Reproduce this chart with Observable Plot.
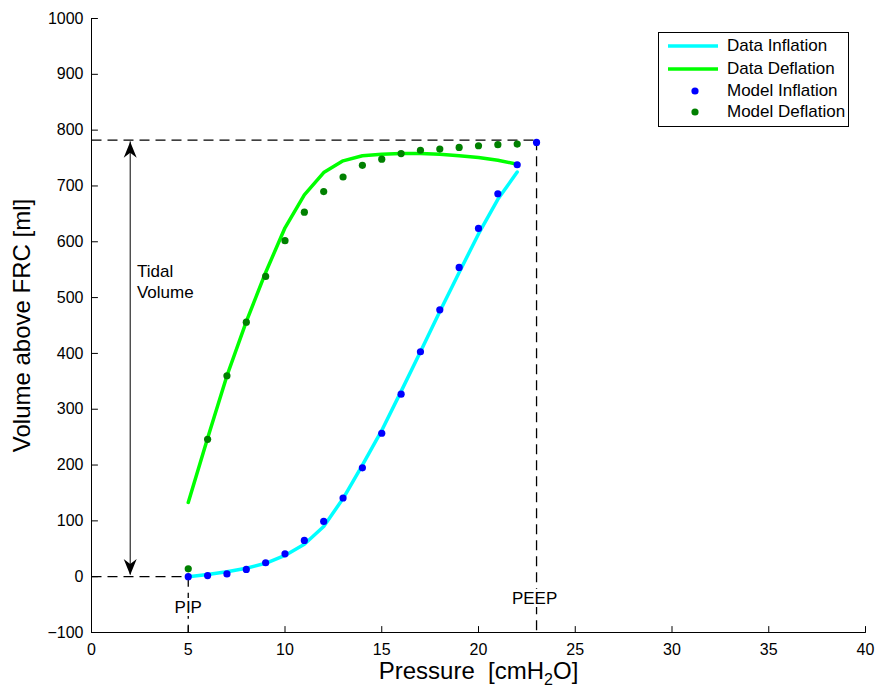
<!DOCTYPE html>
<html>
<head>
<meta charset="utf-8">
<script src="https://cdn.jsdelivr.net/npm/d3@7"></script>
<script src="https://cdn.jsdelivr.net/npm/@observablehq/plot@0.6"></script>
<style>
  body { margin: 0; background: #fff; font-family: "Liberation Sans", Arial, sans-serif; }
  #wrap { position: relative; width: 878px; height: 689px; }
  #legend { position: absolute; left: 658px; top: 32px; width: 191px; height: 95px; border: 1px solid #000; background: #fff; box-sizing: border-box; font-size: 17px; }
  .row { position: absolute; left: 0; height: 20px; width: 220px; }
  .row svg { position: absolute; left: 9px; top: 0; }
  .row span { position: absolute; left: 68px; top: 0px; line-height: 20px; white-space: nowrap; color: #000; }
</style>
</head>
<body>
<div id="wrap"></div>
<script>
// ---- data ----
const dataPressure = [5,6,7,8,9,10,11,12,13,14,15,16,17,18,19,20,21,22];
const dataInflation = [0,4,9,15,24,38,58,90,140,200,262,332,403,475,545,614,676,725];
const dataDeflation = [133,248,360,457,545,625,684,724,745,754,757,758,758,757,754,751,746,739];
const modelInflationPressure = [5,6,7,8,9,10,11,12,13,14,15,16,17,18,19,20,21,22,23];
const modelInflation = [0,2,5,13,25,41,65,99,141,195,257,327,403,478,554,624,686,738,778];
const modelDeflationPressure = [5,6,7,8,9,10,11,12,13,14,15,16,17,18,19,20,21,22];
const modelDeflation = [14,246,360,456,538,602,653,690,716,737,748,758,764,766,769,772,774,775];
const xTicks = [0,5,10,15,20,25,30,35,40];
const yTicks = [-100,0,100,200,300,400,500,600,700,800,900,1000];
const seriesNames = ["Data Inflation","Data Deflation","Model Inflation","Model Deflation"];
const seriesColors = ["#00ffff","#00ff00","#0000ff","#008000"];
const PIP = 5, PEEP = 23, tidalTop = 782, tidalBottom = 0, arrowX = 2;
const xLabel = "Pressure  [cmH2O]";
const yLabel = "Volume above FRC [ml]";

const toRows = (xs, ys) => xs.map((x, i) => ({x, y: ys[i]}));
const inflationRows = toRows(dataPressure, dataInflation);
const deflationRows = toRows(dataPressure, dataDeflation);
const modelInfRows = toRows(modelInflationPressure, modelInflation);
const modelDefRows = toRows(modelDeflationPressure, modelDeflation);

// dashed guide segments
const guides = [
  {x1: 0, y1: tidalTop, x2: PEEP, y2: tidalTop},
  {x1: PEEP, y1: tidalTop, x2: PEEP, y2: -100},
  {x1: 0, y1: tidalBottom, x2: PIP, y2: tidalBottom},
  {x1: PIP, y1: tidalBottom, x2: PIP, y2: -100}
];

const stealth = {
  draw(ctx) {
    ctx.moveTo(0, 0);
    ctx.lineTo(-6.5, 16);
    ctx.lineTo(0, 11);
    ctx.lineTo(6.5, 16);
    ctx.closePath();
  }
};
const tickShape = { draw(ctx, l) { ctx.moveTo(0, 0); ctx.lineTo(0, -l); } };
const numFmt = d => d < 0 ? "\u2212" + Math.abs(d) : String(d);

const font = '"Liberation Sans", Arial, sans-serif';

const chart = Plot.plot({
  width: 878,
  height: 689,
  marginLeft: 91,
  marginRight: 13,
  marginTop: 18,
  marginBottom: 57,
  x: {domain: [0, 40]},
  y: {domain: [-100, 1000]},
  style: {fontFamily: font, fontSize: "16px", color: "#000", background: "#fff", overflow: "visible"},
  marks: [
    Plot.axisX({ticks: xTicks, tickSize: 0, tickPadding: 11, label: null, fontSize: 16, tickFormat: numFmt}),
    Plot.axisY({ticks: yTicks, tickSize: 0, tickPadding: 8, label: null, fontSize: 16, tickFormat: numFmt}),
    // inward ticks
    Plot.vector(xTicks, {x: d => d, y: -100, length: 6, rotate: 0, anchor: "start", shape: tickShape, stroke: "#000", strokeWidth: 1}),
    Plot.vector(yTicks, {x: 0, y: d => d, length: 6, rotate: 90, anchor: "start", shape: tickShape, stroke: "#000", strokeWidth: 1}),
    Plot.ruleX([0], {stroke: "#000", strokeWidth: 1}),
    Plot.ruleY([-100], {stroke: "#000", strokeWidth: 1}),
    // guides
    Plot.link(guides, {x1: "x1", y1: "y1", x2: "x2", y2: "y2", stroke: "#000", strokeWidth: 1.3, strokeDasharray: "10,6"}),
    // tidal volume arrow
    Plot.ruleX([arrowX], {y1: tidalBottom + 3, y2: tidalTop - 3, stroke: "#000", strokeWidth: 1}),
    Plot.dot([{x: arrowX, y: tidalTop - 3}], {x: "x", y: "y", symbol: stealth, fill: "#000", stroke: null, r: 4}),
    Plot.dot([{x: arrowX, y: tidalBottom + 3}], {x: "x", y: "y", symbol: stealth, fill: "#000", stroke: null, r: 4, rotate: 180}),
    // annotations
    Plot.text(["Tidal\nVolume"], {x: 2.35, y: 530, text: d => d, textAnchor: "start", fontSize: 17, lineHeight: 1.2, fill: "#000"}),
    Plot.text(["PIP"], {x: PIP, y: -56, text: d => d, fontSize: 17, fill: "#000", stroke: "#fff", strokeWidth: 6}),
    Plot.text(["PEEP"], {x: PEEP - 0.1, y: -40, text: d => d, fontSize: 17, fill: "#000", stroke: "#fff", strokeWidth: 6}),
    // data lines
    Plot.line(inflationRows, {x: "x", y: "y", stroke: seriesColors[0], strokeWidth: 3.5}),
    Plot.line(deflationRows, {x: "x", y: "y", stroke: seriesColors[1], strokeWidth: 3.5}),
    // model dots
    Plot.dot(modelInfRows, {x: "x", y: "y", fill: seriesColors[2], r: 3.6}),
    Plot.dot(modelDefRows, {x: "x", y: "y", fill: seriesColors[3], r: 3.6}),
    // axis titles
    Plot.text([yLabel], {frameAnchor: "left", dx: -69, rotate: -90, textAnchor: "middle", lineAnchor: "middle", text: d => d, fontSize: 24, fill: "#000"}),
    Plot.text([xLabel], {frameAnchor: "bottom", dy: 39, textAnchor: "middle", lineAnchor: "middle", text: d => d, fontSize: 24, fill: "#000"})
  ]
});

// subscript in the x-axis title
chart.querySelectorAll("text").forEach(t => {
  if (t.textContent === xLabel) {
    t.textContent = "";
    t.setAttribute("style", "white-space:pre");
    const ns = "http://www.w3.org/2000/svg";
    const a = document.createElementNS(ns, "tspan"); a.textContent = "Pressure  [cmH";
    const b = document.createElementNS(ns, "tspan"); b.textContent = "2"; b.setAttribute("dy", "6"); b.setAttribute("font-size", "16");
    const c = document.createElementNS(ns, "tspan"); c.textContent = "O]"; c.setAttribute("dy", "-6");
    t.append(a, b, c);
  }
});

const wrap = document.getElementById("wrap");
wrap.appendChild(chart);

// legend
const legend = document.createElement("div");
legend.id = "legend";
const rowTops = [3, 26, 48, 69];
seriesNames.forEach((name, i) => {
  const row = document.createElement("div");
  row.className = "row";
  row.style.top = rowTops[i] + "px";
  const isLine = i < 2;
  row.innerHTML = `<svg width="52" height="20">${isLine
    ? `<line x1="0" x2="50" y1="10" y2="10" stroke="${seriesColors[i]}" stroke-width="3.5"/>`
    : `<circle cx="27" cy="10" r="3.6" fill="${seriesColors[i]}"/>`}</svg><span>${name}</span>`;
  legend.appendChild(row);
});
wrap.appendChild(legend);
</script>
</body>
</html>
